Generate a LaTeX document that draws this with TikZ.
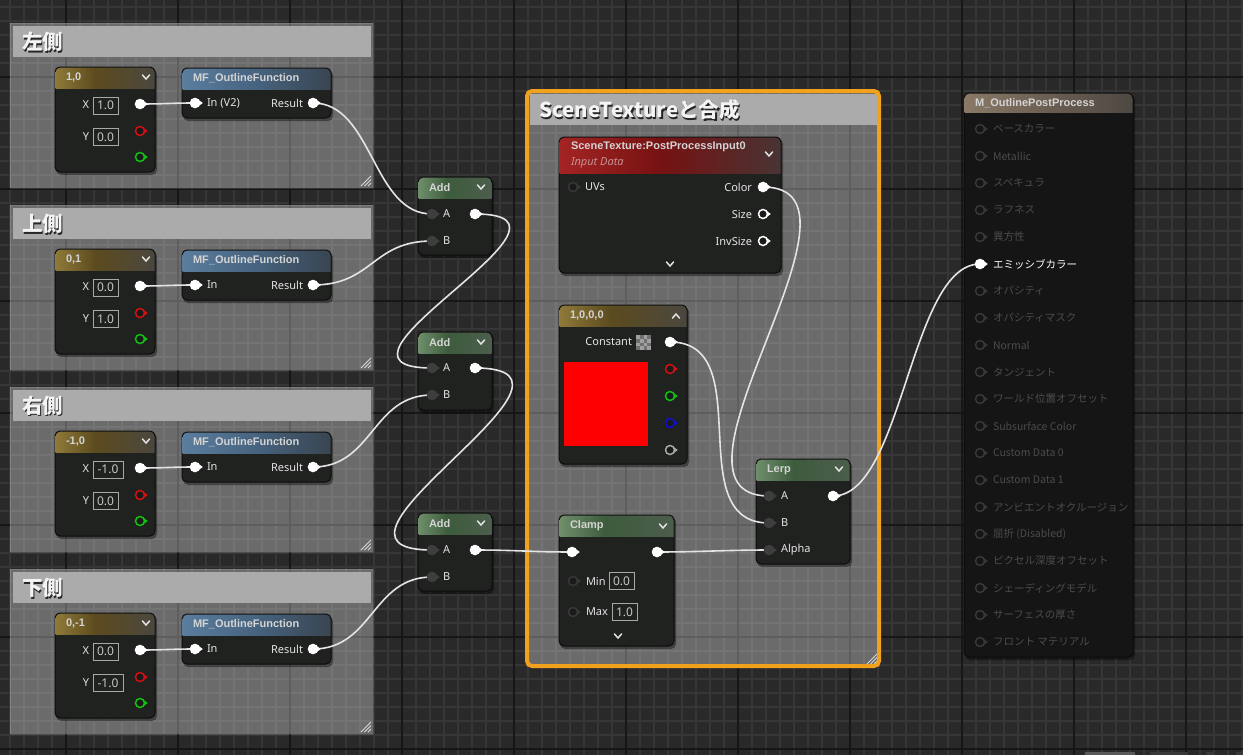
\documentclass[tikz,border=0pt]{standalone}
\usepackage{fontspec}
\setmainfont{Noto Sans}
\newfontfamily\jp{Noto Sans CJK JP}
\newfontfamily\hf{Liberation Sans}
\usetikzlibrary{calc}
\definecolor{bg}{HTML}{292929}
\definecolor{gminor}{HTML}{363636}
\definecolor{gmajor}{HTML}{161616}
\definecolor{nbody}{HTML}{202220}
\definecolor{outbody}{HTML}{141514}
\definecolor{nedge}{HTML}{0B0B0B}
\definecolor{titlec}{HTML}{D4D4D4}
\definecolor{labelc}{HTML}{E4E4E4}
\definecolor{wirec}{HTML}{E4E4E4}
\definecolor{pindark}{HTML}{3E3E3E}
\definecolor{pinfill}{HTML}{1A1A1A}
\definecolor{inact}{HTML}{4C4C4C}
\definecolor{inpin}{HTML}{383838}
\definecolor{selorange}{HTML}{F2A11D}
\definecolor{cbar}{HTML}{ABABAB}
\definecolor{valc}{HTML}{C8C8C8}
\definecolor{valedge}{HTML}{A8A8A8}
\definecolor{italc}{HTML}{C89090}
\definecolor{rszc}{HTML}{D8D8D8}
\definecolor{ctext}{HTML}{F4F4F4}
\definecolor{pinred}{HTML}{D01010}
\definecolor{pingreen}{HTML}{10C010}
\definecolor{pinblue}{HTML}{1010D0}
\definecolor{pingrey}{HTML}{A8A8A8}
\definecolor{chkl}{HTML}{A0A0A0}
\definecolor{chkd}{HTML}{707070}
\definecolor{sbar}{HTML}{5A5A5A}
\definecolor{go1}{HTML}{8F7A3A}\definecolor{go2}{HTML}{5C4B1E}\definecolor{go3}{HTML}{4A473F}
\definecolor{bl1}{HTML}{5B7D9E}\definecolor{bl2}{HTML}{46637F}\definecolor{bl3}{HTML}{394550}
\definecolor{gr1}{HTML}{6F8F6B}\definecolor{gr2}{HTML}{3D5C3D}\definecolor{gr3}{HTML}{4C5D4C}
\definecolor{re1}{HTML}{A42424}\definecolor{re2}{HTML}{761212}\definecolor{re3}{HTML}{483434}
\definecolor{br1}{HTML}{8A7966}\definecolor{br2}{HTML}{6A5E52}\definecolor{br3}{HTML}{4E4843}
\pgfdeclarehorizontalshading{hgold}{100bp}{color(0bp)=(go1); color(25bp)=(go1); color(45bp)=(go2); color(75bp)=(go3); color(100bp)=(go3)}
\pgfdeclarehorizontalshading{hblue}{100bp}{color(0bp)=(bl1); color(25bp)=(bl1); color(50bp)=(bl2); color(75bp)=(bl3); color(100bp)=(bl3)}
\pgfdeclarehorizontalshading{hgreen}{100bp}{color(0bp)=(gr1); color(25bp)=(gr1); color(45bp)=(gr2); color(75bp)=(gr3); color(100bp)=(gr3)}
\pgfdeclarehorizontalshading{hred}{100bp}{color(0bp)=(re1); color(25bp)=(re1); color(48bp)=(re2); color(75bp)=(re3); color(100bp)=(re3)}
\pgfdeclarehorizontalshading{hbrown}{100bp}{color(0bp)=(br1); color(25bp)=(br1); color(50bp)=(br2); color(75bp)=(br3); color(100bp)=(br3)}
\pgfdeclarelayer{bgl}\pgfdeclarelayer{nodel}\pgfdeclarelayer{wirel}
\pgfsetlayers{bgl,nodel,wirel,main}
\tikzset{
 nbox/.style={draw=nedge, fill=nbody, line width=1, rounded corners=5, inner sep=0, outer sep=0},
 htitle/.style={font=\hf\bfseries\fontsize{11}{13}\selectfont, text=titlec, inner sep=0, outer sep=0},
 lbl/.style={font=\fontsize{11}{13}\selectfont, text=labelc, inner sep=0, outer sep=0},
 itl/.style={font=\fontsize{11}{13}\selectfont\itshape, text=italc, inner sep=0, outer sep=0},
 valbox/.style={draw=valedge, line width=0.9, minimum height=17, inner sep=0, outer sep=0, font=\fontsize{12}{13}\selectfont, text=valc},
 ctitle/.style={font=\jp\fontsize{20.5}{24}\selectfont\bfseries, text=ctext, inner sep=0, outer sep=0},
 outlbl/.style={font=\jp\fontsize{10.5}{12}\selectfont, text=inact, inner sep=0, outer sep=0, anchor=west},
 wire/.style={draw=wirec, line width=1.6},
 chevst/.style={draw=labelc, line width=1.5, line cap=round, line join=round},
 cbarst/.style={fill=cbar, inner sep=0, outer sep=0},
 rszst/.style={draw=rszc, line width=0.9},
 cmtline/.style={draw=white, draw opacity=0.12, line width=1},
 pinst/.style={circle, inner sep=0, outer sep=0, minimum size=9, line width=1.5},
}
% pin: name, x, y, fill, stroke
\newcommand\uepin[5]{%
 \fill[#5] ({#2+4},{#3-2.8}) -- ({#2+7.8},{#3}) -- ({#2+4},{#3+2.8}) -- cycle;
 \node[pinst, fill=#4, draw=#5] (#1) at ({#2},{#3}) {};}
\newcommand\chev[2]{\draw[chevst] ({#1-3.5},{#2-2}) -- ({#1},{#2+2}) -- ({#1+3.5},{#2-2});}
\newcommand\chevup[2]{\draw[chevst] ({#1-3.5},{#2+2}) -- ({#1},{#2-2}) -- ({#1+3.5},{#2+2});}
\newcommand\rsz[2]{\draw[rszst] ({#1-12},{#2-2}) -- ({#1-2},{#2-12}) ({#1-8.5},{#2-2}) -- ({#1-2},{#2-8.5}) ({#1-5},{#2-2}) -- ({#1-2},{#2-5});}
% node: name, x1, y1, x2, y2, header bottom, shading, title
\newcommand\uenode[8]{%
 \begin{pgfonlayer}{nodel}
 \fill[black, opacity=0.4, rounded corners=5] ({#2+1},{#3+2}) rectangle ({#4+2},{#5+3});
 \node[nbox, anchor=north west, minimum width={#4-(#2)}, minimum height={#5-(#3)}] (#1) at ({#2},{#3}) {};
 \begin{scope}
 \clip[rounded corners=5] ({#2+0.5},{#3+0.5}) rectangle ({#4-0.5},{#5-0.5});
 \shade[shading=#7] ({#2},{#3}) rectangle ({#4},{#6});
 \end{scope}
 \node[htitle, anchor=west] (#1t) at ({#2+11},{(#3+#6)/2}) {#8};
 \end{pgfonlayer}}
% comment: name, x1, y1, x2, y2, title
\newcommand\cmtbox[6]{%
 \begin{pgfonlayer}{bgl}
 \fill[white, fill opacity=0.31] ({#2},{#3}) rectangle ({#4},{#5});
 \draw[cmtline] ({#2},{#3}) rectangle ({#4},{#5});
 \node[cbarst, anchor=north west, minimum width={#4-(#2)-5}, minimum height=31] (#1) at ({#2+3},{#3+3}) {};
 \node[ctitle, text=black!85, anchor=west] (#1s) at ({#2+13.2},{#3+20.2}) {#6};
 \node[ctitle, anchor=west] (#1t) at ({#2+12},{#3+19}) {#6};
 \rsz{#4}{#5}
 \end{pgfonlayer}}
% side group: suffix, oy, title, header, xval, xbox right, yval, ybox right, in label
\newcommand\sidegroup[9]{%
 \cmtbox{cm#1}{10}{23+#2}{373}{188+#2}{#3}%
 \uenode{cv#1}{55}{67+#2}{155}{172+#2}{88+#2}{hgold}{#4}%
 \begin{pgfonlayer}{nodel}
 \chev{146}{77+#2}
 \node[lbl, anchor=east] (cvxl#1) at (89,{105+#2}) {X};
 \node[valbox, minimum width={#6-93}] (cvxb#1) at ({(93+#6)/2},{105.5+#2}) {#5};
 \node[lbl, anchor=east] (cvyl#1) at (89,{137+#2}) {Y};
 \node[valbox, minimum width={#8-93}] (cvyb#1) at ({(93+#8)/2},{137+#2}) {#7};
 \end{pgfonlayer}
 \uepin{cv#1o}{140}{104+#2}{white}{white}
 \uepin{cv#1r}{140}{131+#2}{pinfill}{pinred}
 \uepin{cv#1g}{140}{157+#2}{pinfill}{pingreen}
 \uenode{mf#1}{182}{68+#2}{331}{118+#2}{89+#2}{hblue}{MF\_OutlineFunction}%
 \begin{pgfonlayer}{nodel}
 \node[lbl, anchor=west] (mf#1il) at (207,{103+#2}) {#9};
 \node[lbl, anchor=east] (mf#1rl) at (303,{103+#2}) {Result};
 \end{pgfonlayer}
 \uepin{mf#1i}{195}{103+#2}{white}{white}
 \uepin{mf#1r}{313}{103+#2}{white}{white}
}
% add node: suffix, top, row A y
\newcommand\addnode[3]{%
 \uenode{add#1}{418}{#2}{492}{#2+78}{#2+21}{hgreen}{Add}%
 \begin{pgfonlayer}{nodel}
 \chev{481}{#2+10}
 \node[lbl, anchor=west] (add#1al) at (443,{#3}) {A};
 \node[lbl, anchor=west] (add#1bl) at (443,{#3+27}) {B};
 \end{pgfonlayer}
 \uepin{add#1a}{432}{#3}{pindark}{pindark}
 \uepin{add#1b}{432}{#3+27}{pindark}{pindark}
 \uepin{add#1o}{475}{#3}{white}{white}
}
\begin{document}
\begin{tikzpicture}[x=1pt,y=-1pt]
\useasboundingbox (0,0) rectangle (1243,755);
\begin{pgfonlayer}{bgl}
\fill[bg] (0,0) rectangle (1243,755);
\foreach \x in {10,24,...,1242} \draw[gminor, line width=1.1] (\x,0) -- (\x,755);
\foreach \y in {7,21,...,755} \draw[gminor, line width=1.1] (0,\y) -- (1243,\y);
\foreach \x in {66,178,...,1242} \draw[gmajor, line width=1.3] (\x,0) -- (\x,755);
\foreach \y in {77,189,...,755} \draw[gmajor, line width=1.3] (0,\y) -- (1243,\y);
\fill[sbar] (1085,752) rectangle (1135,755);
\fill[sbar!120] (1150,752) rectangle (1188,755);
\fill[sbar!120] (1206,752) rectangle (1213,755);
\fill[sbar!120] (1236,752) rectangle (1243,755);
\end{pgfonlayer}

\sidegroup{1}{0}{左側}{1,0}{1.0}{118}{0.0}{118}{In (V2)}
\sidegroup{2}{182}{上側}{0,1}{0.0}{118}{1.0}{118}{In}
\sidegroup{3}{364}{右側}{-1,0}{-1.0}{123}{0.0}{118}{In}
\sidegroup{4}{546}{下側}{0,-1}{0.0}{118}{-1.0}{123}{In}

\addnode{1}{177}{214}
\addnode{2}{332}{368}
\addnode{3}{513}{550}

% SceneTexture comment
\cmtbox{cmst}{527}{91}{879}{666}{SceneTextureと合成}
\begin{pgfonlayer}{bgl}
\draw[selorange, line width=4, rounded corners=5] (527,91) rectangle (879,666);
\end{pgfonlayer}

% SceneTexture node
\uenode{st}{559}{137}{781}{273}{173}{hred}{}
\begin{pgfonlayer}{nodel}
\node[htitle, anchor=west] (stt1) at (571,147) {SceneTexture:PostProcessInput0};
\node[itl, anchor=west] (stt2) at (571,163) {Input Data};
\chev{769}{154}
\node[lbl, anchor=west] (stuvl) at (585,187) {UVs};
\node[lbl, anchor=east] (stcl) at (752,187) {Color};
\node[lbl, anchor=east] (stsl) at (752,214) {Size};
\node[lbl, anchor=east] (stil) at (752,241) {InvSize};
\chev{670}{264}
\end{pgfonlayer}
\uepin{stuv}{573}{187}{pinfill}{inpin}
\uepin{stc}{763}{187}{white}{white}
\uepin{sts}{763}{214}{pinfill}{white}
\uepin{sti}{763}{241}{pinfill}{white}

% Constant4Vector
\uenode{c4}{559}{305}{687}{464}{326}{hgold}{1,0,0,0}
\begin{pgfonlayer}{nodel}
\chevup{676}{316}
\node[lbl, anchor=east] (c4l) at (632,342) {Constant};
\fill[chkl] (636,335) rectangle (651,350);
\foreach \i/\j in {0/1,0/3,1/0,1/2,2/1,2/3,3/0,3/2}
  \fill[chkd] ({636+\i*3.75},{335+\j*3.75}) rectangle +(3.75,3.75);
\node[fill=red, inner sep=0, outer sep=0, minimum width=84, minimum height=84, anchor=north west] (c4sw) at (564,362) {};
\end{pgfonlayer}
\uepin{c4o}{670}{342}{white}{white}
\uepin{c4r}{670}{369}{pinfill}{pinred}
\uepin{c4g}{670}{396}{pinfill}{pingreen}
\uepin{c4b}{670}{423}{pinfill}{pinblue}
\uepin{c4a}{670}{450}{pinfill}{pingrey}

% Lerp
\uenode{lp}{756}{459}{850}{564}{480}{hgreen}{Lerp}
\begin{pgfonlayer}{nodel}
\chev{839}{469}
\node[lbl, anchor=west] (lpal) at (781,496) {A};
\node[lbl, anchor=west] (lpbl) at (781,523) {B};
\node[lbl, anchor=west] (lpall) at (781,550) {Alpha};
\end{pgfonlayer}
\uepin{lpa}{769}{496}{pindark}{pindark}
\uepin{lpb}{769}{523}{pindark}{pindark}
\uepin{lpal}{769}{550}{pindark}{pindark}
\uepin{lpo}{833}{496}{white}{white}

% Clamp
\uenode{cl}{559}{515}{674}{646}{536}{hgreen}{Clamp}
\begin{pgfonlayer}{nodel}
\chev{663}{526}
\node[lbl, anchor=west] (clminl) at (586,581) {Min};
\node[valbox, minimum width=25] (clminb) at (621.5,581) {0.0};
\node[lbl, anchor=west] (clmaxl) at (586,612) {Max};
\node[valbox, minimum width=25] (clmaxb) at (624.5,612) {1.0};
\chev{618}{636}
\end{pgfonlayer}
\uepin{cli}{572}{552}{white}{white}
\uepin{clo}{657}{552}{white}{white}
\uepin{clmin}{573}{581}{pinfill}{inpin}
\uepin{clmax}{573}{612}{pinfill}{inpin}

% Output material node
\begin{pgfonlayer}{nodel}
\fill[black, opacity=0.4, rounded corners=5] (965,95) rectangle (1135,660);
\node[nbox, fill=outbody, fill opacity=0.92, anchor=north west, minimum width=169, minimum height=564] (outn) at (964,93) {};
\begin{scope}
\clip[rounded corners=5] (964.5,93.5) rectangle (1132.5,656.5);
\shade[shading=hbrown] (964,93) rectangle (1133,112);
\end{scope}
\node[htitle, anchor=west] (outnt) at (975,103) {M\_OutlinePostProcess};
\foreach \t [count=\i from 0] in {ベースカラー,Metallic,スペキュラ,ラフネス,異方性,エミッシブカラー,オパシティ,オパシティマスク,Normal,タンジェント,ワールド位置オフセット,Subsurface Color,Custom Data 0,Custom Data 1,アンビエントオクルージョン,屈折 (Disabled),ピクセル深度オフセット,シェーディングモデル,サーフェスの厚さ,フロント マテリアル}
{\ifnum\i=5 \node[outlbl, text=white] (ol\i) at (993,{129+27*\i}) {\t};
 \else \node[outlbl] (ol\i) at (993,{129+27*\i}) {\t}; \fi}
\end{pgfonlayer}
\foreach \i in {0,...,19}
{\ifnum\i=5 \uepin{op\i}{980}{129+27*\i}{white}{white}
 \else \uepin{op\i}{980}{129+27*\i}{outbody}{inpin} \fi}

% wires
\begin{pgfonlayer}{wirel}
\foreach \k in {1,2,3,4}
  \draw[wire] (cv\k o.center) .. controls +(25,0) and +(-25,0) .. (mf\k i.center);
\draw[wire] (mf1r.center) .. controls +(60,0) and +(-60,0) .. (add1a.center);
\draw[wire] (mf2r.center) .. controls +(60,0) and +(-60,0) .. (add1b.center);
\draw[wire] (mf3r.center) .. controls +(60,0) and +(-60,0) .. (add2b.center);
\draw[wire] (mf4r.center) .. controls +(60,0) and +(-60,0) .. (add3b.center);
\draw[wire] (add1o.center) .. controls +(135,0) and +(-135,0) .. (add2a.center);
\draw[wire] (add2o.center) .. controls +(145,0) and +(-145,0) .. (add3a.center);
\draw[wire] (add3o.center) .. controls +(40,0) and +(-40,0) .. (cli.center);
\draw[wire] (clo.center) .. controls +(40,0) and +(-40,0) .. (lpal.center);
\draw[wire] (c4o.center) .. controls +(90,0) and +(-90,0) .. (lpb.center);
\draw[wire] (stc.center) .. controls +(126,0) and +(-126,0) .. (lpa.center);
\draw[wire] (lpo.center) .. controls +(70,0) and +(-70,0) .. (op5.center);
\end{pgfonlayer}
\end{tikzpicture}
\end{document}
